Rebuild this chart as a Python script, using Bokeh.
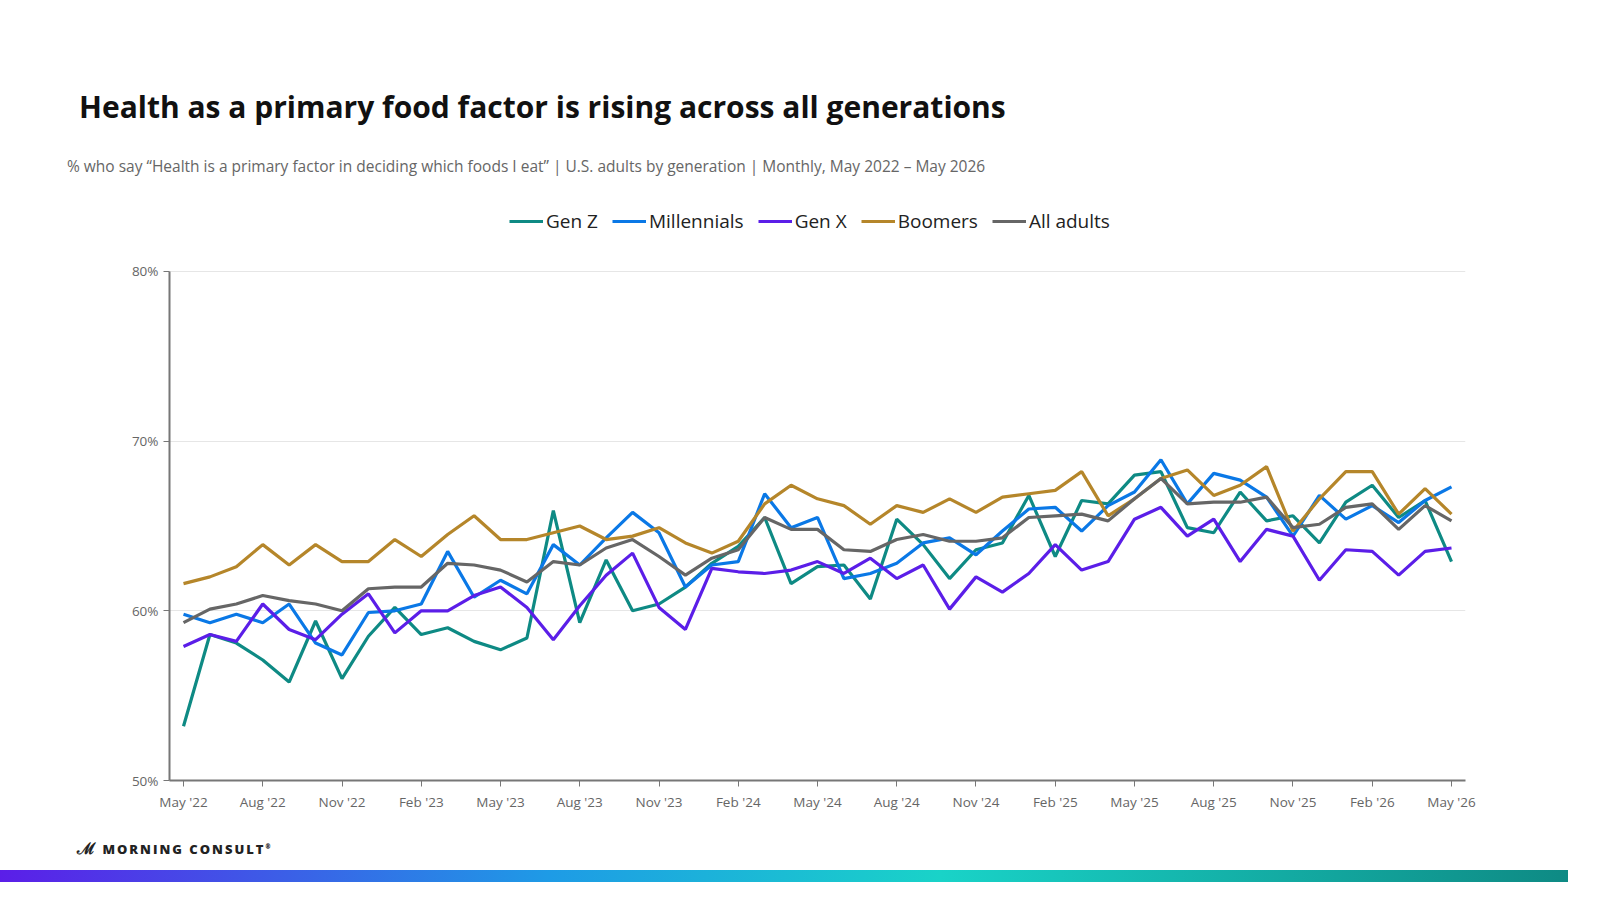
from bokeh.plotting import figure
from bokeh.models import Div, Legend, LegendItem, FixedTicker, ColumnDataSource
from bokeh.layouts import column
from bokeh.embed import file_html
from bokeh.resources import INLINE

months = list(range(49))
tick_labels = ["May '22","Aug '22","Nov '22","Feb '23","May '23","Aug '23","Nov '23","Feb '24",
               "May '24","Aug '24","Nov '24","Feb '25","May '25","Aug '25","Nov '25","Feb '26","May '26"]

gen_z = [53.2,58.6,58.1,57.1,55.8,59.4,56.0,58.5,60.2,58.6,59.0,58.2,57.7,58.4,65.9,59.3,63.0,60.0,60.4,61.4,
         62.8,63.8,65.5,61.6,62.6,62.7,60.7,65.4,63.9,61.9,63.6,64.0,66.8,63.2,66.5,66.3,68.0,68.2,64.9,64.6,
         67.0,65.3,65.6,64.0,66.4,67.4,65.5,66.5,62.9]
millennials = [59.8,59.3,59.8,59.3,60.4,58.1,57.4,59.9,60.0,60.4,63.5,60.8,61.8,61.0,63.9,62.7,64.3,65.8,64.6,61.4,
               62.7,62.9,66.9,64.9,65.5,61.9,62.2,62.8,64.0,64.3,63.3,64.7,66.0,66.1,64.7,66.2,67.0,68.9,66.3,68.1,
               67.7,66.7,64.4,66.8,65.4,66.2,65.2,66.5,67.3]
gen_x = [57.9,58.6,58.2,60.4,58.9,58.3,59.8,61.0,58.7,60.0,60.0,60.9,61.4,60.2,58.3,60.3,62.1,63.4,60.2,58.9,
         62.5,62.3,62.2,62.4,62.9,62.2,63.1,61.9,62.7,60.1,62.0,61.1,62.2,63.9,62.4,62.9,65.4,66.1,64.4,65.4,
         62.9,64.8,64.4,61.8,63.6,63.5,62.1,63.5,63.7]
boomers = [61.6,62.0,62.6,63.9,62.7,63.9,62.9,62.9,64.2,63.2,64.5,65.6,64.2,64.2,64.6,65.0,64.2,64.4,64.9,64.0,
           63.4,64.1,66.3,67.4,66.6,66.2,65.1,66.2,65.8,66.6,65.8,66.7,66.9,67.1,68.2,65.6,66.6,67.8,68.3,66.8,
           67.4,68.5,64.7,66.6,68.2,68.2,65.7,67.2,65.7]
all_adults = [59.3,60.1,60.4,60.9,60.6,60.4,60.0,61.3,61.4,61.4,62.8,62.7,62.4,61.7,62.9,62.7,63.7,64.2,63.2,62.1,
              63.1,63.6,65.5,64.8,64.8,63.6,63.5,64.2,64.5,64.1,64.1,64.3,65.5,65.6,65.7,65.3,66.6,67.8,66.3,66.4,
              66.4,66.7,64.9,65.1,66.1,66.3,64.8,66.2,65.3]

series = [("Gen Z", gen_z, "#0e8a84"), ("Millennials", millennials, "#0a78e6"),
          ("Gen X", gen_x, "#5b1ee8"), ("Boomers", boomers, "#b5862a"), ("All adults", all_adults, "#666666")]

FONT = "Open Sans"
W = 1568

title = Div(text=f'<div style="font-family:{FONT};font-weight:700;font-size:30px;color:#111;padding:86px 0 0 79px;white-space:nowrap;">Health as a primary food factor is rising across all generations</div>',
            width=W, height=140, margin=(0, 0, 0, 0))
sub = Div(text=f'<div style="font-family:{FONT};font-size:15.5px;color:#666;padding:15px 0 0 67px;white-space:nowrap;">% who say \u201cHealth is a primary factor in deciding which foods I eat\u201d | U.S. adults by generation | Monthly, May 2022 \u2013 May 2026</div>',
          width=W, height=45, margin=(0, 0, 0, 0))

p = figure(frame_width=1296, frame_height=580, output_backend="svg", toolbar_location=None,
           x_range=(-0.53, 48.53), y_range=(50, 84.18),
           min_border_left=169, min_border_right=103, min_border_top=15, min_border_bottom=35,
           margin=(0, 0, 0, 0))
p.outline_line_color = None
p.xgrid.grid_line_color = None
p.ygrid.grid_line_color = "#e6e6e6"
p.ygrid.ticker = FixedTicker(ticks=[60, 70, 80])

items = []
for name, vals, col in series:
    src = ColumnDataSource(dict(x=months, y=vals))
    r = p.line("x", "y", source=src, line_color=col, line_width=3.2)
    items.append(LegendItem(label=name, renderers=[r]))

leg = Legend(items=items, orientation="horizontal", location=(340, 546),
             label_text_font=FONT, label_text_font_size="19px", label_text_color="#222",
             glyph_width=34, glyph_height=20, spacing=14, label_standoff=3,
             border_line_color=None, background_fill_alpha=0, margin=0, padding=0)
p.add_layout(leg)

p.xaxis.ticker = FixedTicker(ticks=list(range(0, 49, 3)))
p.xaxis.major_label_overrides = {i * 3: lab for i, lab in enumerate(tick_labels)}
p.yaxis.ticker = FixedTicker(ticks=[50, 60, 70, 80])
p.yaxis.bounds = (50, 80)
p.yaxis.major_label_overrides = {50: "50%", 60: "60%", 70: "70%", 80: "80%"}
for ax in (p.xaxis, p.yaxis):
    ax.axis_line_color = "#777"
    ax.axis_line_width = 2
    ax.major_tick_line_color = "#777"
    ax.major_tick_out = 6
    ax.major_tick_in = 0
    ax.minor_tick_line_color = None
    ax.major_label_text_font = FONT
    ax.major_label_text_font_size = "13.5px"
    ax.major_label_text_color = "#666"
p.xaxis.major_label_standoff = 6

footer = Div(text=f'<div style="position:relative;width:{W}px;height:67px;">'
                  f'<div style="position:absolute;left:77px;top:22px;font-family:{FONT};font-weight:800;font-size:13px;letter-spacing:2px;color:#222;">'
                  f'<span style="font-size:16px;">&#x2133;</span> MORNING CONSULT<sup style="font-size:6px;">\u00ae</sup></div>'
                  f'<div style="position:absolute;left:0;top:55px;width:{W}px;height:12px;background:linear-gradient(90deg,#5b1ee8 0%,#1e9be6 35%,#19d3c8 60%,#0e8a84 100%);"></div></div>',
             width=W, height=67, margin=(0, 0, 0, 0))

layout = column(title, sub, p, footer, spacing=0)
open("out.html", "w").write(file_html(layout, INLINE))
